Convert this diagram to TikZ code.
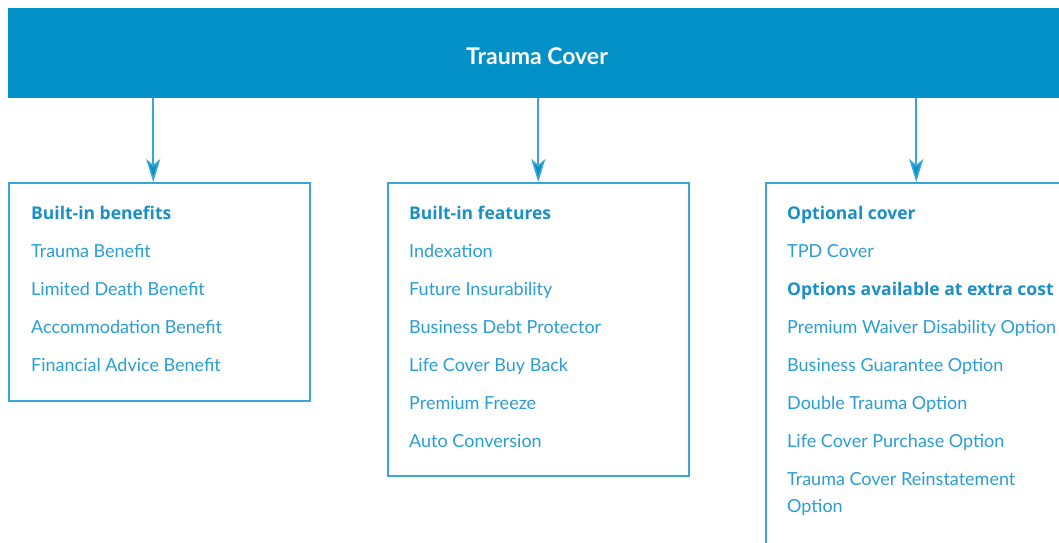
\documentclass[tikz,border=0pt]{standalone}
\usepackage{fontspec}
\setmainfont{Lato}
\newfontfamily\headfont{Open Sans}
\usetikzlibrary{arrows.meta,positioning}

\definecolor{coverblue}{HTML}{0391C7}
\definecolor{lineblue}{HTML}{3AA6D6}
\definecolor{textblue}{HTML}{2A9DD2}
\definecolor{headblue}{HTML}{1A8FC6}

\tikzset{
  bar/.style={fill=coverblue, text=white, minimum width=1058pt, minimum height=90pt,
    inner sep=0pt, text height=22.5pt, text depth=0pt,
    font=\fontsize{23}{27}\selectfont\bfseries},
  panel/.style={draw=lineblue, line width=1.5pt, anchor=north west, minimum width=301pt,
    inner sep=0pt},
  head/.style={anchor=base west, inner sep=0pt, text=headblue,
    font=\headfont\fontsize{17.5}{21}\selectfont\bfseries},
  item/.style={anchor=base west, inner sep=0pt, text=textblue,
    font=\fontsize{18}{21}\selectfont},
  link/.style={draw=lineblue, line width=1.6pt,
    -{Stealth[length=23pt, width=14pt, inset=6pt, fill=coverblue]}},
}

\begin{document}
\begin{tikzpicture}[x=1pt, y=-1pt]
  \useasboundingbox (0,0) rectangle (1059,542);
  \clip (0,0) rectangle (1059,542);

  % top bar
  \node[bar] (cover) at (537,53) {Trauma Cover};

  % the three panels
  \node[panel, minimum height=218pt] (benefits) at (8,182)   {};
  \node[panel, minimum height=293pt] (features) at (387,182) {};
  \node[panel, minimum height=380pt] (optional) at (765,182) {};

  % built-in benefits
  \node[head] (bh) at ([xshift=23pt, yshift=-37pt]benefits.north west) {Built-in benefits};
  \node[item] (b1) at ([yshift=-38pt]bh.base west) {Trauma Benefit};
  \node[item] (b2) at ([yshift=-38pt]b1.base west) {Limited Death Benefit};
  \node[item] (b3) at ([yshift=-38pt]b2.base west) {Accommodation Benefit};
  \node[item] (b4) at ([yshift=-38pt]b3.base west) {Financial Advice Benefit};

  % built-in features
  \node[head] (fh) at ([xshift=22pt, yshift=-37pt]features.north west) {Built-in features};
  \node[item] (f1) at ([yshift=-38pt]fh.base west) {Indexation};
  \node[item] (f2) at ([yshift=-38pt]f1.base west) {Future Insurability};
  \node[item] (f3) at ([yshift=-38pt]f2.base west) {Business Debt Protector};
  \node[item] (f4) at ([yshift=-38pt]f3.base west) {Life Cover Buy Back};
  \node[item] (f5) at ([yshift=-38pt]f4.base west) {Premium Freeze};
  \node[item] (f6) at ([yshift=-38pt]f5.base west) {Auto Conversion};

  % optional cover
  \node[head] (oh) at ([xshift=22pt, yshift=-37pt]optional.north west) {Optional cover};
  \node[item] (o1) at ([yshift=-38pt]oh.base west) {TPD Cover};
  \node[head] (xh) at ([yshift=-38pt]o1.base west) {Options available at extra cost};
  \node[item] (o2) at ([yshift=-38pt]xh.base west) {Premium Waiver Disability Option};
  \node[item] (o3) at ([yshift=-38pt]o2.base west) {Business Guarantee Option};
  \node[item] (o4) at ([yshift=-38pt]o3.base west) {Double Trauma Option};
  \node[item] (o5) at ([yshift=-38pt]o4.base west) {Life Cover Purchase Option};
  \node[item] (o6) at ([yshift=-38pt]o5.base west) {Trauma Cover Reinstatement};
  \node[item] (o7) at ([yshift=-27pt]o6.base west) {Option};

  % connectors
  \draw[link] ([xshift=-6pt]benefits.north |- cover.south) -- ([xshift=-6pt]benefits.north);
  \draw[link] (cover.south -| features.north) -- (features.north);
  \draw[link] (cover.south -| optional.north) -- (optional.north);
\end{tikzpicture}
\end{document}
